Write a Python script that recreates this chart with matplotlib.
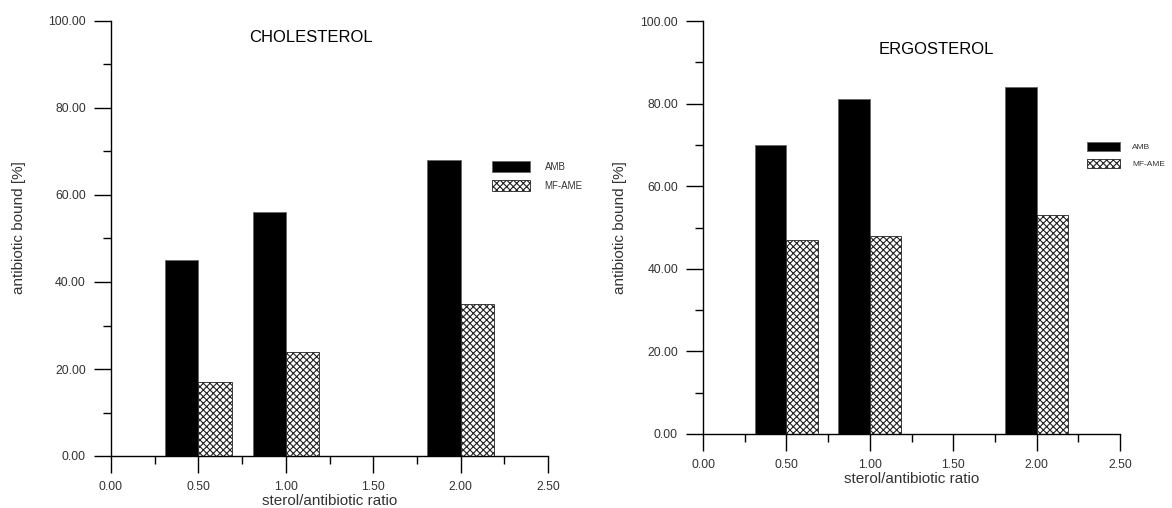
import matplotlib
matplotlib.use("Agg")
import matplotlib.pyplot as plt
import numpy as np
from matplotlib.ticker import MultipleLocator, FormatStrFormatter

plt.rcParams['font.family'] = ['Liberation Sans', 'DejaVu Sans']
plt.rcParams['hatch.linewidth'] = 0.8

ratios = [0.5, 1.0, 2.0]
chol_amb = [45, 56, 68]
chol_mfame = [17, 24, 35]
ergo_amb = [70, 81, 84]
ergo_mfame = [47, 48, 53]
series_names = ["AMB", "MF-AME"]
titles = ["CHOLESTEROL", "ERGOSTEROL"]
xlabel = "sterol/antibiotic ratio"
ylabel = "antibiotic bound [%]"

W, H = 1172, 508
fig = plt.figure(figsize=(W / 100, H / 100), dpi=100)

def px_axes(x0, x1, y0, y1):
    return fig.add_axes([x0 / W, (H - y0) / H, (x1 - x0) / W, (y0 - y1) / H])

txt_col = '#333333'
bw = 0.19

def draw(ax, amb, mf, title, title_xy, leg_xy, leg_fs, ylab_xy):
    x = np.array(ratios)
    b1 = ax.bar(x - bw / 2, amb, width=bw, color='black', edgecolor='#666666', linewidth=0.6, label=series_names[0])
    b2 = ax.bar(x + bw / 2, mf, width=bw, color='white', edgecolor='#222222', hatch='xxxxx', linewidth=0.6, label=series_names[1])
    ax.set_xlim(0, 2.5)
    ax.set_ylim(0, 100)
    ax.xaxis.set_major_locator(MultipleLocator(0.5))
    ax.xaxis.set_minor_locator(MultipleLocator(0.25))
    ax.yaxis.set_major_locator(MultipleLocator(20))
    ax.yaxis.set_minor_locator(MultipleLocator(10))
    ax.xaxis.set_major_formatter(FormatStrFormatter('%.2f'))
    ax.yaxis.set_major_formatter(FormatStrFormatter('%.2f'))
    for s in ['top', 'right']:
        ax.spines[s].set_visible(False)
    for s in ['left', 'bottom']:
        ax.spines[s].set_linewidth(1.0)
    ax.tick_params(which='major', direction='out', length=12, width=1.0, labelsize=8.8, labelcolor=txt_col, pad=6)
    ax.tick_params(which='minor', direction='out', length=6, width=1.0)
    ax.set_xlabel(xlabel, fontsize=11, color=txt_col, labelpad=1)
    ax.set_ylabel(ylabel, fontsize=11, color=txt_col)
    ax.yaxis.set_label_coords(ylab_xy[0] / W, (H - ylab_xy[1]) / H, transform=fig.transFigure)
    fig.text(title_xy[0] / W, (H - title_xy[1]) / H, title, fontsize=12, color='black', ha='center', va='center')
    leg = ax.legend(handles=[b1, b2], loc='upper left',
                    bbox_to_anchor=(leg_xy[0] / W, (H - leg_xy[1]) / H),
                    bbox_transform=fig.transFigure, frameon=False,
                    fontsize=leg_fs, handlelength=3.9, handleheight=1.3,
                    handletextpad=1.5, labelspacing=0.9, borderpad=0, borderaxespad=0)
    for t in leg.get_texts():
        t.set_color(txt_col)

ax1 = px_axes(111, 548, 456, 21)
draw(ax1, chol_amb, chol_mfame, titles[0], (311, 38), (492, 161), 7, (26, 228))
ax2 = px_axes(703, 1120, 434, 21)
draw(ax2, ergo_amb, ergo_mfame, titles[1], (936, 50), (1087, 142), 6, (627, 228))

fig.savefig('out.png', dpi=100)
